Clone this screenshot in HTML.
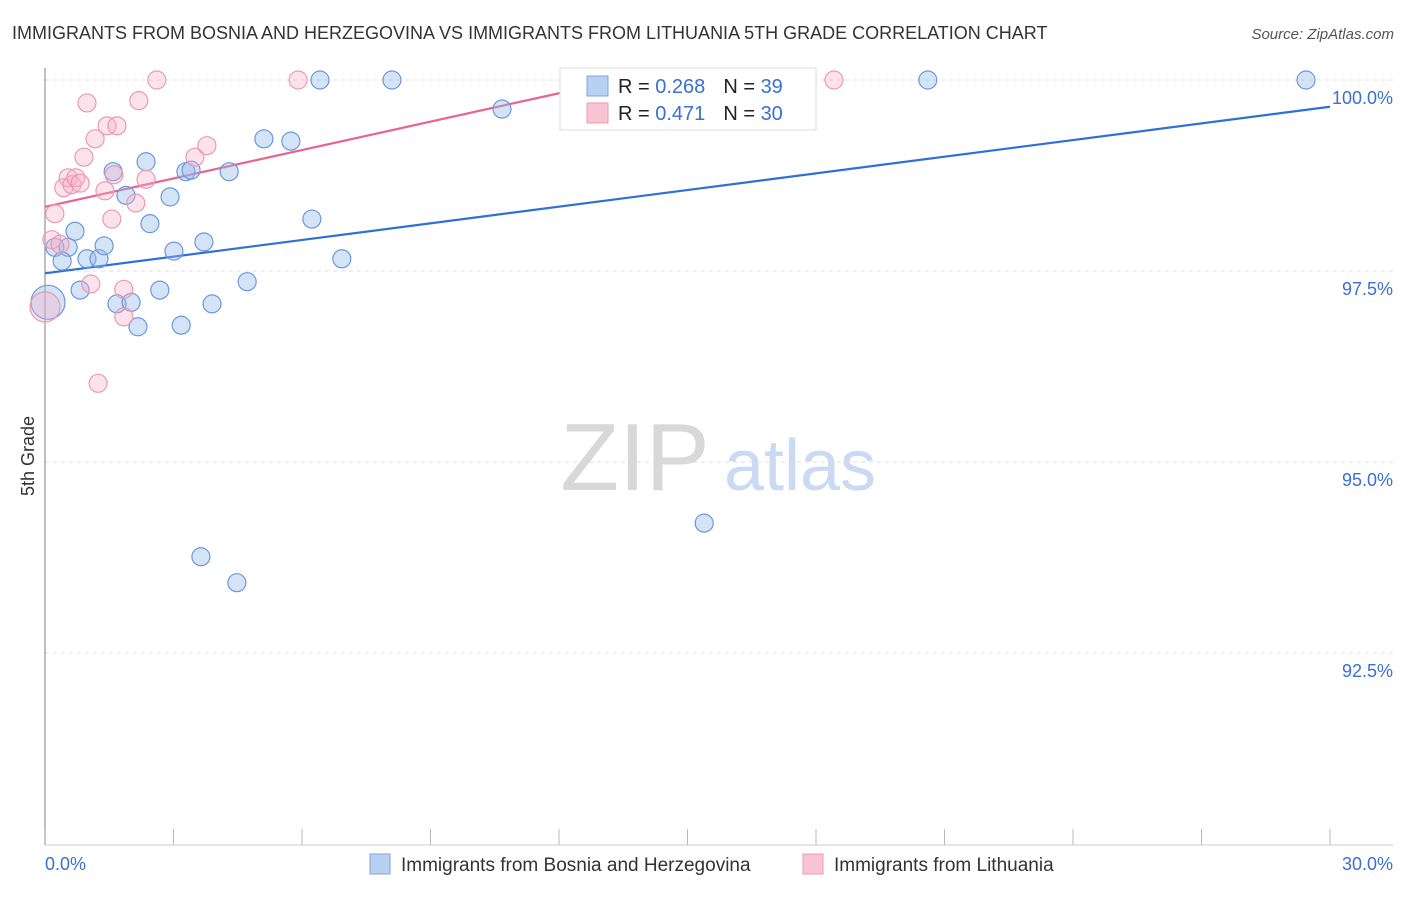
<!DOCTYPE html>
<html><head><meta charset="utf-8"><style>
body{margin:0;background:#fff;font-family:"Liberation Sans",sans-serif}
svg text{font-family:"Liberation Sans",sans-serif}
</style></head><body>
<svg id="chart" width="1406" height="892" viewBox="0 0 1406 892">
<text x="12" y="39" font-size="18" fill="#333">IMMIGRANTS FROM BOSNIA AND HERZEGOVINA VS IMMIGRANTS FROM LITHUANIA 5TH GRADE CORRELATION CHART</text>
<text x="1394" y="39" font-size="15" fill="#555" font-style="italic" text-anchor="end">Source: ZipAtlas.com</text>
<g>
<text x="635" y="490" font-size="96" fill="#d8d8d8" font-family="Liberation Serif" text-anchor="middle">ZIP</text>
<text x="800" y="490" font-size="72" fill="#c9daf2" text-anchor="middle">atlas</text>
</g>
<g id="grid"></g>
<line x1="45" y1="68" x2="45" y2="845" stroke="#aaa" stroke-width="1.5"/>
<line x1="45" y1="845" x2="1393" y2="845" stroke="#ccc" stroke-width="1"/>
<g id="xticks"></g>
<text x="45" y="870" font-size="18" fill="#3b6fd0">0.0%</text>
<text x="1393" y="870" font-size="18" fill="#3b6fd0" text-anchor="end">30.0%</text>
<text transform="translate(34,456) rotate(-90)" font-size="18" fill="#333" text-anchor="middle">5th Grade</text>
<g id="lines"></g>
<g id="pts"></g>
<g>
<rect x="560" y="68" width="256" height="62" fill="#fff" stroke="#ddd"/>
<rect x="587" y="76" width="21" height="20" fill="#b8d0f2" stroke="#7fa6e0"/>
<rect x="587" y="103" width="21" height="20" fill="#f8c4d4" stroke="#eb9ab4"/>
<text x="618" y="93" font-size="20" fill="#222">R = <tspan fill="#3b6fd0">0.268</tspan><tspan dx="18">N = </tspan><tspan fill="#3b6fd0">39</tspan></text>
<text x="618" y="120" font-size="20" fill="#222">R = <tspan fill="#3b6fd0"> 0.471</tspan><tspan dx="18">N = </tspan><tspan fill="#3b6fd0">30</tspan></text>
</g>
<g>
<rect x="370" y="854" width="20" height="20" fill="#b8d0f2" stroke="#7fa6e0"/>
<text x="401" y="871" font-size="19" fill="#333">Immigrants from Bosnia and Herzegovina</text>
<rect x="803" y="854" width="20" height="20" fill="#f8c4d4" stroke="#eb9ab4"/>
<text x="834" y="871" font-size="19" fill="#333">Immigrants from Lithuania</text>
</g>
</svg>
<script>
const yTicks=[100.0,97.5,95.0,92.5];
const yTickLabels=["100.0%","97.5%","95.0%","92.5%"];
const xTickVals=[0,3,6,9,12,15,18,21,24,27,30];
const blueX=[0.07,0.23,0.54,0.40,0.70,0.98,1.26,0.82,1.38,1.59,1.89,1.68,2.01,2.17,2.36,2.45,2.68,2.92,3.01,3.18,3.29,3.41,3.71,3.90,3.64,4.30,4.48,4.72,5.11,5.74,6.23,6.42,6.93,8.10,10.67,15.39,20.61,29.44];
const blueY=[97.09,97.81,97.81,97.63,98.02,97.66,97.66,97.25,97.83,98.80,98.49,97.07,97.09,96.77,98.93,98.12,97.25,98.47,97.76,96.79,98.80,98.82,97.88,97.07,93.76,98.80,93.42,97.36,99.23,99.20,98.18,100.0,97.66,100.0,99.62,94.20,100.0,100.0];
const pinkX=[0.0,0.16,0.23,0.35,0.44,0.54,0.63,0.72,0.82,0.91,0.98,1.07,1.17,1.24,1.40,1.45,1.56,1.61,1.68,1.84,1.84,2.12,2.19,2.36,2.61,3.50,3.78,5.91,18.42,12.93];
const pinkY=[97.03,97.91,98.25,97.85,98.59,98.72,98.63,98.72,98.65,98.99,99.70,97.33,99.23,96.03,98.55,99.40,98.18,98.76,99.40,97.26,96.90,98.39,99.73,98.70,100.0,98.99,99.14,100.0,100.0,100.0];
const blueTrend=[[0,97.47],[30,99.65]];
const pinkTrend=[[0,98.34],[13.4,100.0]];
const NS="http://www.w3.org/2000/svg";
function sx(v){return 45+v/30*1285;}
function sy(v){return 80+(100-v)*76.4;}
function mk(tag,parent,attrs){const e=document.createElementNS(NS,tag);for(const k in attrs)e.setAttribute(k,attrs[k]);document.getElementById(parent).appendChild(e);return e;}
yTicks.forEach((v,i)=>{
 const l=mk('line','grid',{x1:45,x2:1393,y1:sy(v),y2:sy(v),stroke:'#ddd','stroke-dasharray':'4,4'});
 
 
 const t=mk('text','grid',{x:1393,y:sy(v)+24,'font-size':18,fill:'#3b6fd0','text-anchor':'end'});
 t.textContent=yTickLabels[i];
 
 
});
xTickVals.forEach(v=>{
 const l=mk('line','xticks',{x1:sx(v),x2:sx(v),y1:829,y2:845,stroke:'#bbb'});
 
 
});
function trend(tr,color,name){
 const l=mk('line','lines',{x1:sx(tr[0][0]),y1:sy(tr[0][1]),x2:sx(tr[1][0]),y2:sy(tr[1][1]),stroke:color,'stroke-width':2.2});
 
 
}
trend(blueTrend,'#2f6fd6','trend-line-bosnia');
trend(pinkTrend,'#e8648e','trend-line-lithuania');
function pts(xs,ys,fill,stroke,name){
 xs.forEach((x,i)=>{
  const r=(i===0)?(name==='point-bosnia'?17:15):9;
  const c=mk('circle','pts',{cx:sx(x),cy:sy(ys[i]),r:r,fill:fill,stroke:stroke,'stroke-width':1.2});
  
  
 });
}
pts(blueX,blueY,'rgba(150,185,235,0.4)','#6a98dc','point-bosnia');
pts(pinkX,pinkY,'rgba(245,175,198,0.35)','#e99ab3','point-lithuania');
</script>
</body></html>
